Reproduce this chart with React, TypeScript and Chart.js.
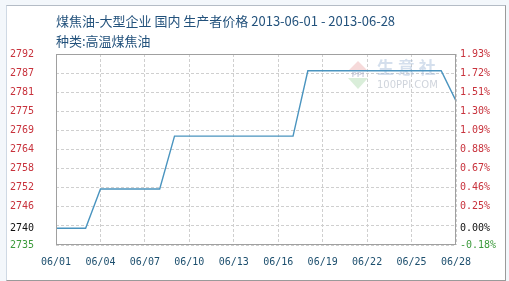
import React, { useEffect, useRef } from 'react';
import { Chart, registerables } from 'chart.js';

Chart.register(...registerables);

// Daily producer price of high-temperature coal tar (large enterprises, domestic)
const dates = [
  '06/01', '06/02', '06/03', '06/04', '06/05', '06/06', '06/07',
  '06/08', '06/09', '06/10', '06/11', '06/12', '06/13', '06/14',
  '06/15', '06/16', '06/17', '06/18', '06/19', '06/20', '06/21',
  '06/22', '06/23', '06/24', '06/25', '06/26', '06/27', '06/28',
];
const prices = [
  2740, 2740, 2740,
  2751.7, 2751.7, 2751.7, 2751.7, 2751.7,
  2767.5, 2767.5, 2767.5, 2767.5, 2767.5, 2767.5, 2767.5, 2767.5, 2767.5,
  2787, 2787, 2787, 2787, 2787, 2787, 2787, 2787, 2787, 2787,
  2778,
];

// Axis range and the labels of its evenly spaced grid lines (bottom to top)
const basePrice = 2740;
const axisMin = 2735;
const axisMax = 2792;
const priceLabels = ['2735', '', '2746', '2752', '2758', '2764', '2769', '2775', '2781', '2787', '2792'];
const changeLabels = ['-0.18%', '', '0.25%', '0.46%', '0.67%', '0.88%', '1.09%', '1.30%', '1.51%', '1.72%', '1.93%'];
const basePriceLabel = '2740';
const baseChangeLabel = '0.00%';

const gridStep = (axisMax - axisMin) / (priceLabels.length - 1);
const gridValues = priceLabels.map((_, i) => axisMin + i * gridStep);
const tickValues = [...gridValues, basePrice].sort((a, b) => a - b);

const isBase = (v: number) => Math.abs(v - basePrice) < 1e-6;
const labelFor = (list: string[], baseLabel: string) => (v: number) => {
  if (isBase(v)) return baseLabel;
  return list[Math.round((v - axisMin) / gridStep)] ?? '';
};
const tickColor = (ctx: any) => {
  const v = ctx.tick?.value;
  if (v === undefined) return '#c8323c';
  if (isBase(v)) return '#111111';
  return v < basePrice ? '#3c9a3c' : '#c8323c';
};

const tickFont = { family: '"DejaVu Sans Mono", monospace', size: 10 };

const framePlugin = {
  id: 'plotFrame',
  beforeDatasetsDraw(chart: any) {
    const { ctx, chartArea: a } = chart;
    ctx.save();
    // 100PPI watermark
    const cx = 358;
    ctx.fillStyle = 'rgba(230,150,150,0.35)';
    ctx.beginPath();
    ctx.moveTo(cx, 61);
    ctx.lineTo(cx + 10, 71);
    ctx.lineTo(cx - 10, 71);
    ctx.closePath();
    ctx.fill();
    ctx.fillStyle = 'rgba(150,205,150,0.35)';
    ctx.beginPath();
    ctx.moveTo(cx - 10, 78);
    ctx.lineTo(cx + 10, 78);
    ctx.lineTo(cx, 89);
    ctx.closePath();
    ctx.fill();
    ctx.fillStyle = 'rgba(150,160,190,0.45)';
    ctx.font = 'bold 7px "DejaVu Sans"';
    ctx.textAlign = 'center';
    ctx.textBaseline = 'middle';
    ctx.fillText('PPI', cx, 75);
    ctx.fillStyle = 'rgba(160,185,215,0.45)';
    ctx.font = 'bold 17px "Noto Sans CJK SC"';
    ctx.textAlign = 'left';
    ctx.fillText('生 意 社', 377, 68);
    ctx.font = '10px "DejaVu Sans"';
    ctx.fillStyle = 'rgba(160,170,185,0.5)';
    ctx.fillText('100PPI.COM', 377, 85);
    ctx.restore();
  },
  afterDraw(chart: any) {
    const { ctx, chartArea: a } = chart;
    ctx.save();
    ctx.strokeStyle = '#a0a0a0';
    ctx.lineWidth = 1;
    ctx.strokeRect(Math.round(a.left) + 0.5, Math.round(a.top) + 0.5,
      Math.round(a.right - a.left) - 1, Math.round(a.bottom - a.top) - 1);
    ctx.restore();
  },
};

export default function App() {
  const canvasRef = useRef<HTMLCanvasElement>(null);

  useEffect(() => {
    if (!canvasRef.current) return;
    const chart = new Chart(canvasRef.current, {
      type: 'line',
      data: {
        labels: dates,
        datasets: [{
          data: prices,
          borderColor: '#4a94bf',
          borderWidth: 1.4,
          pointRadius: 0,
          tension: 0,
          fill: false,
          yAxisID: 'y',
        }],
      },
      options: {
        animation: false,
        responsive: false,
        devicePixelRatio: 1,
        layout: { padding: { top: 54, left: 0, right: 0, bottom: 0 } },
        plugins: { legend: { display: false }, tooltip: { enabled: false } },
        scales: {
          x: {
            type: 'category',
            offset: false,
            afterFit: (s: any) => { s.height = 36; },
            border: { display: false, dash: [3, 2] },
            grid: {
              drawTicks: false,
              color: (ctx: any) => (ctx.index % 3 === 0 ? '#cfcfcf' : 'rgba(0,0,0,0)'),
            },
            ticks: {
              autoSkip: false,
              maxRotation: 0,
              padding: 11,
              color: '#1d4f6e',
              font: tickFont,
              callback: (_v: any, i: number) => (i % 3 === 0 ? dates[i] : ''),
            },
          },
          y: {
            type: 'linear',
            position: 'left',
            min: axisMin,
            max: axisMax,
            afterBuildTicks: (s: any) => { s.ticks = tickValues.map((value) => ({ value })); },
            afterFit: (s: any) => { s.width = 56; },
            border: { display: false, dash: [3, 2] },
            grid: {
              drawTicks: false,
              color: (ctx: any) => (ctx.tick && isBase(ctx.tick.value) ? 'rgba(0,0,0,0)' : '#cfcfcf'),
            },
            ticks: {
              autoSkip: false,
              padding: 22,
              font: tickFont,
              color: tickColor,
              callback: (v: any) => labelFor(priceLabels, basePriceLabel)(Number(v)),
            },
          },
          y1: {
            type: 'linear',
            position: 'right',
            min: axisMin,
            max: axisMax,
            afterBuildTicks: (s: any) => { s.ticks = tickValues.map((value) => ({ value })); },
            afterFit: (s: any) => { s.width = 53; },
            border: { display: false },
            grid: { display: false, drawTicks: false },
            ticks: {
              autoSkip: false,
              padding: 4,
              font: tickFont,
              color: tickColor,
              callback: (v: any) => labelFor(changeLabels, baseChangeLabel)(Number(v)),
            },
          },
        },
      },
      plugins: [framePlugin],
    });
    return () => chart.destroy();
  }, []);

  const titleStyle: React.CSSProperties = {
    position: 'absolute',
    left: 56,
    fontFamily: '"Noto Sans CJK SC", sans-serif',
    fontSize: 13,
    lineHeight: '16px',
    color: '#23527c',
    whiteSpace: 'nowrap',
  };

  return (
    <div style={{ position: 'absolute', left: 0, top: 0, width: 509, height: 281, background: '#f3f7fb', overflow: 'hidden' }}>
      <div style={{
        position: 'absolute', left: 6, top: 5, width: 498, height: 274, background: '#ffffff',
        borderTop: '1px solid #b4bcc6', borderLeft: '1px solid #cfd9e4',
        borderRight: '1px solid #9a9a9a', borderBottom: '1px solid #9a9a9a',
      }} />
      <canvas ref={canvasRef} width={509} height={281} style={{ position: 'absolute', left: 0, top: 0, width: 509, height: 281 }} />
      <div style={{ ...titleStyle, top: 13 }}>煤焦油-大型企业 国内 生产者价格 2013-06-01 - 2013-06-28</div>
      <div style={{ ...titleStyle, top: 33 }}>种类:高温煤焦油</div>
    </div>
  );
}
